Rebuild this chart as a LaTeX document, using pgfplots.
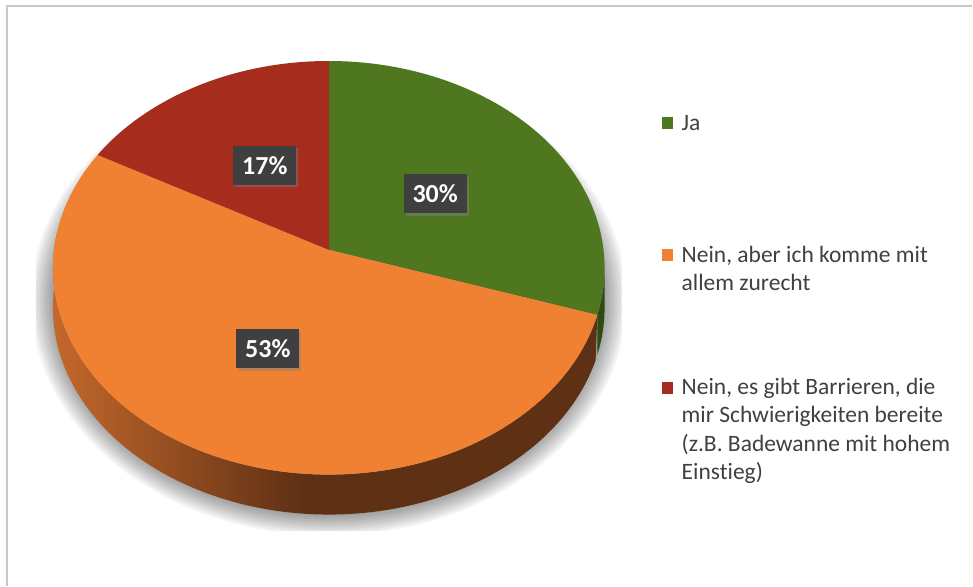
\documentclass[border=0pt]{standalone}
\usepackage{fontspec}
\setmainfont{Carlito}[Ligatures=NoCommon]
\usepackage{pgfplots}
\pgfplotsset{compat=1.18}
\usetikzlibrary{shadows}
\definecolor{cJa}{HTML}{4E7720}
\definecolor{cNe}{HTML}{F08032}
\definecolor{cBa}{HTML}{A62C1E}
\definecolor{cJaS}{HTML}{2F4A12}
\definecolor{cNeL}{HTML}{C4682C}
\definecolor{cNeD}{HTML}{5E3014}
\definecolor{boxc}{HTML}{3F3F3F}
\definecolor{txt}{HTML}{404040}
\definecolor{framec}{HTML}{C8C8C8}
\pgfdeclarehorizontalshading{sideshade}{100bp}{color(0bp)=(cNeL); color(25bp)=(cNeL); color(48bp)=(cNeD); color(100bp)=(cNeD)}
% data (percent)
\def\vJa{30}
\def\vNe{53}
\def\vBa{17}
\pgfmathsetmacro{\aJa}{90-3.6*\vJa}
\pgfmathsetmacro{\aNe}{\aJa-3.6*\vNe}
\pgfmathsetmacro{\aBa}{\aNe-3.6*\vBa}
\pgfmathsetmacro{\sJaA}{max(\aJa,-185)}
\pgfmathsetmacro{\sNeA}{max(\aNe,-185)}
\pgfmathsetmacro{\sNeB}{min(\aJa,-5)}
\begin{document}
\begin{tikzpicture}[declare function={
  px(\a)=329+275*cos(\a)/(1+0.087*sin(\a));
  py(\a)=250-205.4*sin(\a)/(1+0.087*sin(\a));
  sth(\s,\a,\b)=ifthenelse(\s<=1,\a+(\b-\a)*\s,\b-(\b-\a)*(\s-1));
  soff(\s)=ifthenelse(\s<=1,0,40);
}]
\begin{axis}[width=973bp, height=586bp, scale only axis, hide axis, clip=false,
  xmin=0, xmax=973, ymin=0, ymax=586, y dir=reverse]
\fill[white] (axis cs:0,0) rectangle (axis cs:973,586);
\draw[framec, line width=1.5bp] (axis cs:7,586) -- (axis cs:7,6) -- (axis cs:973,6);
% shadow
\begin{scope}
\clip (axis cs:36,0) rectangle (axis cs:622,531);
\pgfplotsinvokeforeach{0,2,4,6,8,10,12,14,16,18,20}{
  \fill[black, opacity=0.04] (axis cs:329,300) ellipse [x radius={276+1.1*#1}, y radius={216+#1}];
}
\end{scope}
% sides
\addplot[draw=none, shading=sideshade, domain=0:2, samples=241, variable=\s]
  ({px(sth(\s,\sNeA,\sNeB))},{py(sth(\s,\sNeA,\sNeB))+soff(\s)}) -- cycle;
\addplot[draw=none, fill=cJaS, domain=0:2, samples=81, variable=\s]
  ({px(sth(\s,\sJaA,-5))},{py(sth(\s,\sJaA,-5))+soff(\s)}) -- cycle;
% top face
\addplot[draw=none, fill=cJa, domain=\aJa:90, samples=120, variable=\t]
  ({px(\t)},{py(\t)}) -- (axis cs:329,250) -- cycle;
\addplot[draw=none, fill=cNe, domain=\aNe:\aJa, samples=200, variable=\t]
  ({px(\t)},{py(\t)}) -- (axis cs:329,250) -- cycle;
\addplot[draw=none, fill=cBa, domain=\aBa:\aNe, samples=80, variable=\t]
  ({px(\t)},{py(\t)}) -- (axis cs:329,250) -- cycle;
% data labels
\tikzset{dl/.style={fill=boxc, text=white, font=\fontsize{26bp}{30bp}\selectfont\bfseries,
  minimum width=63bp, minimum height=39bp, inner sep=0pt,
  drop shadow={shadow xshift=2bp, shadow yshift=-2.5bp, opacity=0.45}}}
\node[dl] at (axis cs:435.5,194) {30\%};
\node[dl] at (axis cs:265,165.5) {17\%};
\node[dl] at (axis cs:268,349) {53\%};
% legend
\tikzset{lg/.style={anchor=base west, text=txt, font=\fontsize{23.5bp}{28bp}\selectfont, inner sep=0pt}}
\fill[cJa] (axis cs:662,117) rectangle (axis cs:674,129);
\node[lg] at (axis cs:682,131) {Ja};
\fill[cNe] (axis cs:662,249) rectangle (axis cs:674,261);
\node[lg] at (axis cs:682,263) {Nein, aber ich komme mit};
\node[lg] at (axis cs:682,291) {allem zurecht};
\fill[cBa] (axis cs:662,382) rectangle (axis cs:674,394);
\node[lg] at (axis cs:682,395) {Nein, es gibt Barrieren, die};
\node[lg] at (axis cs:682,423) {mir Schwierigkeiten bereite};
\node[lg] at (axis cs:682,452) {(z.B. Badewanne mit hohem};
\node[lg] at (axis cs:682,480) {Einstieg)};
\end{axis}
\end{tikzpicture}
\end{document}
